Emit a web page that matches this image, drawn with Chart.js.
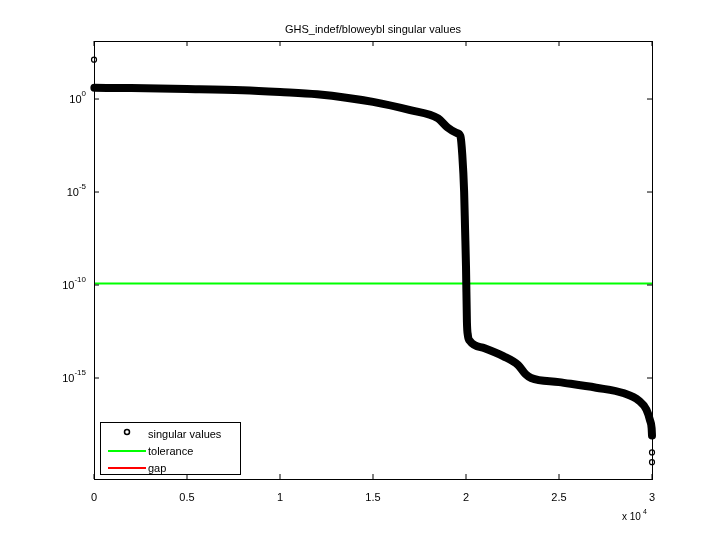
<!DOCTYPE html>
<html><head><script src="https://cdn.jsdelivr.net/npm/chart.js@4"></script>
<style>body{margin:0;background:#fff}</style></head>
<body><canvas id="c" width="720" height="540"></canvas>
<script>
// singular values (index, value)
const topIndex = [1];
const topValue = [1.3e2];
const svIndex = [20, 2000, 5000, 8000, 10000, 12000, 15000, 17000, 18500, 19000, 19500, 19700, 19800, 19900, 19950, 20000, 20050, 20100, 20200, 21000, 22000, 22800, 23200, 23500, 25000, 27000, 28500, 29300, 29700, 29900, 29980, 30000];
const svValue = [4e0, 3.9e0, 3.5e0, 3e0, 2.4e0, 1.8e0, 7e-1, 2.5e-1, 9e-2, 3e-2, 1.5e-2, 1e-2, 1e-3, 1e-5, 1e-7, 1e-9, 1e-12, 2e-13, 1e-13, 4e-14, 1.5e-14, 5e-15, 1.6e-15, 1e-15, 6e-16, 3e-16, 1.5e-16, 6e-17, 2e-17, 5e-18, 2e-18, 8e-19];
const tailIndex = [30000, 30000];
const tailValue = [1e-19, 3e-20];
const tolerance = 1.2e-10;
const xTicks = [0, 5000, 10000, 15000, 20000, 25000, 30000];
const xTickLabels = ['0', '0.5', '1', '1.5', '2', '2.5', '3'];
const yTickExp = [0, -5, -10, -15];

const font = 'Liberation Sans, Arial, sans-serif';

const decor = {
  id: 'decor',
  afterDraw(chart) {
    const {ctx, chartArea: a, scales: {y}} = chart;
    ctx.save();
    ctx.strokeStyle = '#000'; ctx.lineWidth = 1;
    ctx.strokeRect(a.left + 0.5, a.top + 0.5, a.right - a.left, a.bottom - a.top);
    ctx.fillStyle = '#000';
    ctx.font = '11px ' + font;
    ctx.textAlign = 'center';
    ctx.fillText('GHS_indef/bloweybl singular values', (a.left + a.right) / 2, 33);
    yTickExp.forEach(e => {
      const py = y.getPixelForValue(Math.pow(10, e));
      ctx.textAlign = 'right';
      const sup = String(e);
      ctx.font = '8px ' + font;
      const sw = ctx.measureText(sup).width;
      ctx.fillText(sup, a.left - 8, py - 3);
      ctx.font = '11px ' + font;
      ctx.fillText('10', a.left - 8 - sw, py + 4);
      ctx.beginPath();
      ctx.moveTo(a.left, py); ctx.lineTo(a.left + 5, py);
      ctx.moveTo(a.right, py); ctx.lineTo(a.right - 5, py);
      ctx.stroke();
    });
    const x = chart.scales.x;
    xTicks.forEach(v => {
      const px = x.getPixelForValue(v);
      ctx.beginPath();
      ctx.moveTo(px, a.bottom); ctx.lineTo(px, a.bottom - 5);
      ctx.moveTo(px, a.top); ctx.lineTo(px, a.top + 5);
      ctx.stroke();
    });
    ctx.textAlign = 'left';
    ctx.font = '10px ' + font;
    ctx.fillText('x 10', 622, 520);
    ctx.font = '7px ' + font;
    ctx.fillText('4', 643, 514);
    // legend
    const lx = a.left + 6, ly = a.bottom - 57, lw = 140, lh = 52;
    ctx.fillStyle = '#fff';
    ctx.fillRect(lx, ly, lw, lh);
    ctx.strokeRect(lx + 0.5, ly + 0.5, lw, lh);
    ctx.font = '11px ' + font;
    const items = [['singular values', null], ['tolerance', '#00ff00'], ['gap', '#ff0000']];
    items.forEach((it, i) => {
      const cy = ly + 12 + i * 17;
      if (it[1]) {
        ctx.strokeStyle = it[1]; ctx.lineWidth = 2;
        ctx.beginPath(); ctx.moveTo(lx + 8, cy); ctx.lineTo(lx + 46, cy); ctx.stroke();
      } else {
        ctx.strokeStyle = '#000'; ctx.lineWidth = 1.5;
        ctx.beginPath(); ctx.arc(lx + 27, cy - 2, 2.5, 0, Math.PI * 2); ctx.stroke();
      }
      ctx.fillStyle = '#000';
      ctx.fillText(it[0], lx + 48, cy + 4);
    });
    ctx.restore();
  }
};

const marker = {pointRadius: 2.5, pointBorderColor: '#000', pointBackgroundColor: '#fff', pointBorderWidth: 1.2, showLine: false, clip: false};
new Chart(document.getElementById('c'), {
  type: 'line',
  data: {
    datasets: [{
      label: 'top',
      data: topIndex.map((v, i) => ({x: v, y: topValue[i]})),
      ...marker
    }, {
      label: 'singular values',
      data: svIndex.map((v, i) => ({x: v, y: svValue[i]})),
      borderColor: '#000', borderWidth: 8, borderCapStyle: 'round', borderJoinStyle: 'round',
      pointRadius: 0, cubicInterpolationMode: 'monotone', clip: false
    }, {
      label: 'tail',
      data: tailIndex.map((v, i) => ({x: v, y: tailValue[i]})),
      ...marker
    }, {
      label: 'tolerance',
      data: [{x: 0, y: tolerance}, {x: 30000, y: tolerance}],
      borderColor: '#00ff00', borderWidth: 2, pointRadius: 0
    }]
  },
  options: {
    responsive: false, animation: false,
    layout: {padding: {left: 0, right: 68, top: 41, bottom: 0}},
    plugins: {legend: {display: false}, tooltip: {enabled: false}},
    scales: {
      x: {
        type: 'linear', min: 0, max: 30000,
        grid: {display: false}, border: {display: false},
        afterBuildTicks: s => { s.ticks = xTicks.map(v => ({value: v})); },
        afterFit: s => { s.height = 61; },
        ticks: {color: '#000', font: {family: font, size: 11}, padding: 4, maxRotation: 0,
          callback: v => xTickLabels[xTicks.indexOf(v)]}
      },
      y: {
        type: 'logarithmic', min: Math.pow(10, -20.43), max: Math.pow(10, 3.12),
        grid: {display: false}, border: {display: false},
        afterBuildTicks: s => { s.ticks = yTickExp.map(e => ({value: Math.pow(10, e)})); },
        afterFit: s => { s.width = 94; },
        ticks: {callback: () => ''}
      }
    }
  },
  plugins: [decor]
});
</script></body></html>
